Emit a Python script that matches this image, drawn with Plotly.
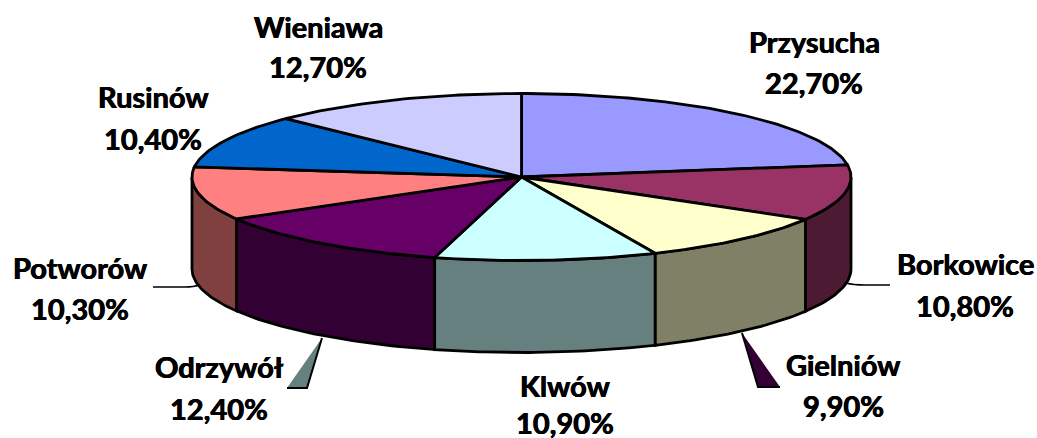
import math
import plotly.graph_objects as go

categories = ["Przysucha", "Borkowice", "Gielniów", "Klwów", "Odrzywół", "Potworów", "Rusinów", "Wieniawa"]
values = [22.7, 10.8, 9.9, 10.9, 12.4, 10.3, 10.4, 12.7]
top_colors = ["#9999FF", "#993366", "#FFFFCC", "#CCFFFF", "#660066", "#FF8080", "#0066CC", "#CCCCFF"]
side_colors = ["#4D4D80", "#4D1A33", "#808066", "#668080", "#330033", "#804040", "#003366", "#666680"]

# label centres in picture pixels: name line, value line
label_x = [814, 965, 843, 565, 219, 80, 153, 318]
label_y_name = [41, 263, 364, 385, 366, 267, 96, 26]
label_y_value = [82, 305, 405, 422, 408, 308, 138, 66]

CX, CY, RX, RY, DEPTH = 521.5, 177, 329.5, 83.5, 92
LINE = dict(color="black", width=2.8)


def arc(a0, a1, dy=0.0):
    n = max(2, int(abs(a1 - a0) / 1.0) + 1)
    xs, ys = [], []
    for i in range(n + 1):
        a = math.radians(a0 + (a1 - a0) * i / n)
        xs.append(CX + RX * math.sin(a))
        ys.append(CY - RY * math.cos(a) + dy)
    return xs, ys


total = sum(values)
edges = [0.0]
for v in values:
    edges.append(edges[-1] + v / total * 360)

fig = go.Figure()
common = dict(mode="lines", fill="toself", hoverinfo="skip", showlegend=False)

# side walls (front half only)
for i in range(len(values)):
    a0, a1 = max(edges[i], 90), min(edges[i + 1], 270)
    if a1 <= a0:
        continue
    x1, y1 = arc(a0, a1)
    x2, y2 = arc(a1, a0, DEPTH)
    fig.add_trace(go.Scatter(x=x1 + x2 + x1[:1], y=y1 + y2 + y1[:1],
                             fillcolor=side_colors[i], line=LINE, **common))

# top faces
for i in range(len(values)):
    xa, ya = arc(edges[i], edges[i + 1])
    fig.add_trace(go.Scatter(x=[CX] + xa + [CX], y=[CY] + ya + [CY],
                             fillcolor=top_colors[i], line=LINE, **common))

shapes = [
    dict(type="path", path="M322,338 L287,388 L307,388 Z", fillcolor="#668080", line=dict(width=0)),
    dict(type="path", path="M322,338 L307,388 L287,388", line=dict(color="black", width=2)),
    dict(type="path", path="M742,333 L758,387 L780,387 Z", fillcolor="#330033", line=dict(width=0)),
    dict(type="path", path="M742,333 L758,387 L780,387", line=dict(color="black", width=2)),
    dict(type="path", path="M153,287 L185,287 Q194,287 199,285", line=dict(color="black", width=1.6)),
    dict(type="path", path="M846,283 Q853,285 865,285 L890,285", line=dict(color="black", width=1.6)),
]

font = dict(family="Lato", size=29, color="black", weight="bold",
            shadow="0.4px 0 0 black, -0.4px 0 0 black")
annotations = []
for i, name in enumerate(categories):
    pct = f"{values[i]:.2f}".replace(".", ",") + "%"
    annotations.append(dict(x=label_x[i], y=label_y_name[i], text=name, showarrow=False, font=font,
                            xanchor="center", yanchor="middle"))
    annotations.append(dict(x=label_x[i], y=label_y_value[i], text=pct, showarrow=False, font=font,
                            xanchor="center", yanchor="middle"))

fig.update_layout(
    width=1037, height=438, margin=dict(l=0, r=0, t=0, b=0),
    paper_bgcolor="white", plot_bgcolor="white",
    xaxis=dict(range=[0, 1037], visible=False, fixedrange=True),
    yaxis=dict(range=[438, 0], visible=False, fixedrange=True),
    shapes=shapes, annotations=annotations,
)
fig.write_html("out.html", config={"displayModeBar": False},
               post_script="document.body.style.margin='0';document.body.style.overflow='hidden';")
